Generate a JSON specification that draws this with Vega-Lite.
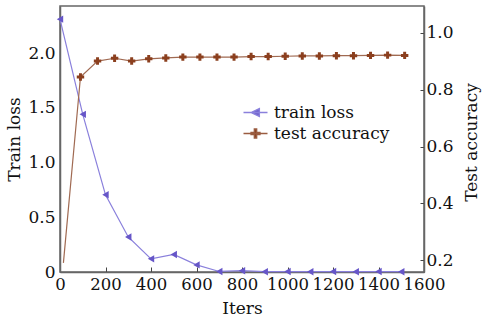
{
  "$schema": "https://vega.github.io/schema/vega-lite/v6.json",
  "width": 364,
  "height": 266,
  "autosize": "none",
  "padding": {"left": 60, "top": 6, "right": 59, "bottom": 52},
  "config": {
    "font": "DejaVu Serif",
    "view": {"stroke": "#666", "strokeWidth": 1.5},
    "axis": {
      "labelFont": "DejaVu Serif",
      "labelFontSize": 17,
      "labelColor": "#111",
      "labelFlush": false,
      "titleFont": "DejaVu Serif",
      "titleFontSize": 17,
      "titleFontWeight": "normal",
      "titleColor": "#111",
      "domainColor": "#666",
      "domainWidth": 1.5,
      "tickColor": "#444",
      "grid": false,
      "labelOverlap": false
    },
    "legend": {
      "labelFont": "DejaVu Serif",
      "labelFontSize": 17,
      "labelColor": "#111"
    }
  },
  "datasets": {
    "rows": [
      {"iter": 0, "value": 2.31, "series": "train loss"},
      {"iter": 100, "value": 1.44, "series": "train loss"},
      {"iter": 200, "value": 0.705, "series": "train loss"},
      {"iter": 300, "value": 0.32, "series": "train loss"},
      {"iter": 400, "value": 0.12, "series": "train loss"},
      {"iter": 500, "value": 0.16, "series": "train loss"},
      {"iter": 600, "value": 0.065, "series": "train loss"},
      {"iter": 700, "value": 0.005, "series": "train loss"},
      {"iter": 800, "value": 0.012, "series": "train loss"},
      {"iter": 900, "value": 0.003, "series": "train loss"},
      {"iter": 1000, "value": 0.004, "series": "train loss"},
      {"iter": 1100, "value": 0.003, "series": "train loss"},
      {"iter": 1200, "value": 0.004, "series": "train loss"},
      {"iter": 1300, "value": 0.003, "series": "train loss"},
      {"iter": 1400, "value": 0.004, "series": "train loss"},
      {"iter": 1500, "value": 0.003, "series": "train loss"},
      {"iter": 15, "value": 0.19, "series": "test accuracy"},
      {"iter": 90, "value": 0.845, "series": "test accuracy"},
      {"iter": 165, "value": 0.901, "series": "test accuracy"},
      {"iter": 240, "value": 0.911, "series": "test accuracy"},
      {"iter": 315, "value": 0.901, "series": "test accuracy"},
      {"iter": 390, "value": 0.909, "series": "test accuracy"},
      {"iter": 465, "value": 0.912, "series": "test accuracy"},
      {"iter": 540, "value": 0.915, "series": "test accuracy"},
      {"iter": 615, "value": 0.915, "series": "test accuracy"},
      {"iter": 690, "value": 0.915, "series": "test accuracy"},
      {"iter": 765, "value": 0.915, "series": "test accuracy"},
      {"iter": 840, "value": 0.917, "series": "test accuracy"},
      {"iter": 915, "value": 0.917, "series": "test accuracy"},
      {"iter": 990, "value": 0.918, "series": "test accuracy"},
      {"iter": 1065, "value": 0.919, "series": "test accuracy"},
      {"iter": 1140, "value": 0.919, "series": "test accuracy"},
      {"iter": 1215, "value": 0.92, "series": "test accuracy"},
      {"iter": 1290, "value": 0.92, "series": "test accuracy"},
      {"iter": 1365, "value": 0.921, "series": "test accuracy"},
      {"iter": 1440, "value": 0.922, "series": "test accuracy"},
      {"iter": 1515, "value": 0.921, "series": "test accuracy"}
    ]
  },
  "data": {"name": "rows"},
  "layer": [
    {
      "transform": [{"filter": "datum.series === 'train loss'"}],
      "encoding": {
        "x": {
          "field": "iter", "type": "quantitative",
          "scale": {"domain": [0, 1600], "nice": false},
          "axis": {"title": "Iters", "values": [0, 200, 400, 600, 800, 1000, 1200, 1400, 1600], "format": "d", "labelFontSize": 16.5, "tickSize": -5, "labelPadding": 9, "titlePadding": 8}
        },
        "y": {
          "field": "value", "type": "quantitative",
          "scale": {"domain": [0, 2.43], "nice": false, "zero": false},
          "axis": {"title": "Train loss", "titleX": -46, "titleY": 133, "titleAngle": -90, "titleAlign": "center", "titleBaseline": "middle", "values": [0, 0.5, 1, 1.5, 2], "labelExpr": "datum.value === 0 ? '0' : format(datum.value, '.1f')", "ticks": false, "labelPadding": 5}
        }
      },
      "layer": [
        {"mark": {"type": "line", "color": "#8a80dc", "strokeWidth": 1.2}},
        {"mark": {"type": "point", "shape": "triangle-left", "filled": true, "color": "#6656c8", "size": 55, "opacity": 1}},
        {
          "mark": {"type": "point", "filled": true, "opacity": 0, "size": 144},
          "encoding": {
            "shape": {
              "field": "series", "type": "nominal",
              "scale": {"domain": ["train loss", "test accuracy"], "range": ["M-2,0L2,0M-0.75,0L0.65,-0.65L0.65,0.65Z", "M-2,0L2,0M-0.2,-0.75L0.2,-0.75L0.2,-0.2L0.75,-0.2L0.75,0.2L0.2,0.2L0.2,0.75L-0.2,0.75L-0.2,0.2L-0.75,0.2L-0.75,-0.2L-0.2,-0.2Z"]},
              "legend": {"title": null, "orient": "none", "legendX": 187, "legendY": 98, "symbolOpacity": 1, "symbolSize": 144, "symbolStrokeWidth": 1.3, "labelOffset": 10, "rowPadding": 3}
            },
            "color": {
              "field": "series", "type": "nominal",
              "scale": {"domain": ["train loss", "test accuracy"], "range": ["#6f62cc", "#8b4526"]}
            },
            "stroke": {
              "field": "series", "type": "nominal",
              "scale": {"domain": ["train loss", "test accuracy"], "range": ["#8a80dc", "#9a5c40"]}
            }
          }
        }
      ]
    },
    {
      "transform": [{"filter": "datum.series === 'test accuracy'"}],
      "encoding": {
        "x": {"field": "iter", "type": "quantitative"},
        "y": {
          "field": "value", "type": "quantitative",
          "scale": {"domain": [0.158, 1.095], "nice": false, "zero": false},
          "axis": {"orient": "right", "title": "Test accuracy", "titleAngle": -90, "titleX": 47, "titleY": 136, "titleAlign": "center", "titleBaseline": "middle", "values": [0.2, 0.4, 0.6, 0.8, 1.0], "format": ".1f", "tickSize": -4, "labelPadding": 6}
        }
      },
      "layer": [
        {"mark": {"type": "line", "color": "#a06a52", "strokeWidth": 1.2}},
        {"transform": [{"filter": "datum.iter > 20"}], "mark": {"type": "point", "shape": "cross", "filled": true, "color": "#8b3f1e", "size": 55, "opacity": 1}}
      ]
    }
  ],
  "resolve": {"scale": {"y": "independent"}}
}
